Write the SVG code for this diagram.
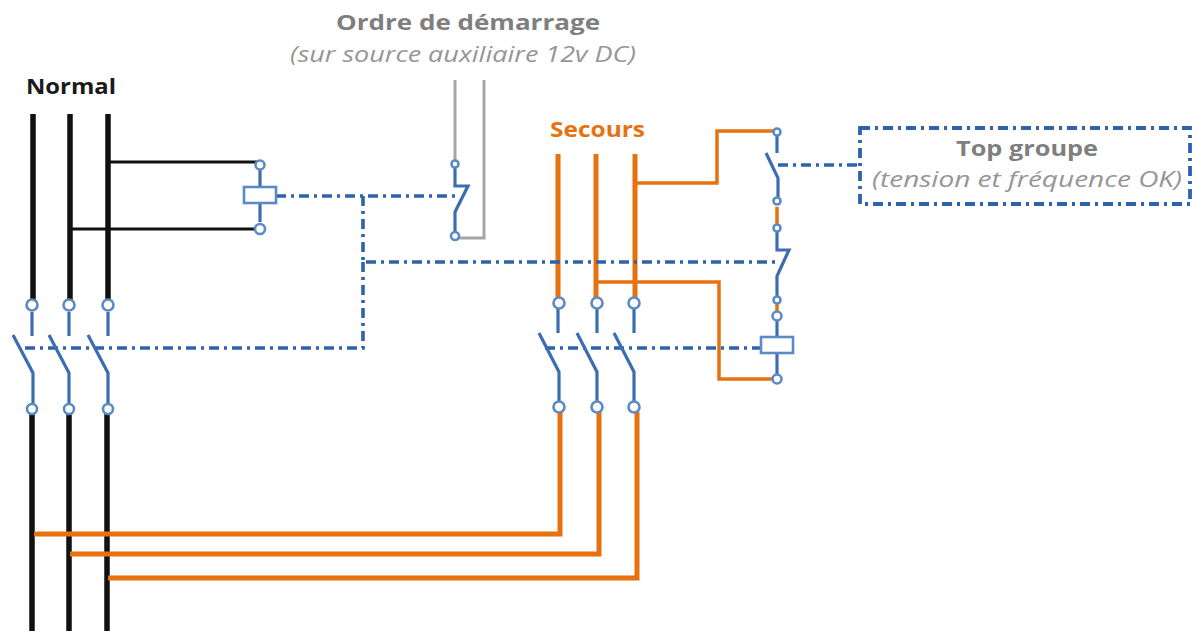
<svg xmlns="http://www.w3.org/2000/svg" width="1192" height="631" viewBox="0 0 1192 631">
<style>
.k{fill:none;stroke:#111;stroke-width:5.5}
.k2{fill:none;stroke:#111;stroke-width:3}
.o{fill:none;stroke:#e8710f;stroke-width:5}
.o2{fill:none;stroke:#e8710f;stroke-width:3.5}
.g{fill:none;stroke:#a6a6a6;stroke-width:3}
.b{fill:none;stroke:#3c6db0;stroke-width:3.2}
.d{fill:none;stroke:#2f62ad;stroke-width:3.6;stroke-dasharray:10 5 3 5}
.c{fill:#fff;stroke:#5b8ac6;stroke-width:2.6}
.r{fill:#fff;stroke:#5b8ac6;stroke-width:2.6}
text{font-family:"Open Sans","Liberation Sans",sans-serif;lengthAdjust:spacingAndGlyphs}
.h{font-weight:700;font-size:22px;fill:#7f7f7f}
.i{font-style:italic;font-size:22px;fill:#969696;font-weight:400}
</style>
<g id="connectors">
<path class="k" d="M33 114V300M70 114V300M108 114V300M32 412V631M69 412V631M107 412V631"/>
<path class="k2" d="M108 162H258M70 229H258"/>
<path class="o" d="M558 154V298M596 154V298M635 154V298M560 412V534H34M599 412V554H70M637 412V578H108"/>
<path class="o2" d="M637 183H717V131H773M597 282H719V379H773M777 207V224M777 304V312"/>
<path class="g" d="M455 80V160M484 80V238H458"/>
<path class="d" d="M276 196H455M363 196V262H780M363 262V348H20M545 348H760M778 165H858"/>
</g>
<g id="switch-normal">
<path class="b" d="M32 312V336M69 312V336M108 312V336M13 335L33 373V404M49 335L69 373V404M88 335L108 373V404"/>
<circle class="c" cx="32" cy="305" r="5.5"/><circle class="c" cx="69" cy="305" r="5.5"/><circle class="c" cx="108" cy="305" r="5.5"/>
<circle class="c" cx="32" cy="409" r="5"/><circle class="c" cx="69" cy="409" r="5"/><circle class="c" cx="108" cy="409" r="5"/>
</g>
<g id="coil-normal">
<path class="b" d="M260 165V222"/>
<rect class="r" x="244" y="187" width="32" height="16"/>
<circle class="c" cx="260" cy="165" r="4.5"/><circle class="c" cx="260" cy="229" r="5"/>
</g>
<g id="contact-start">
<path class="b" d="M455 164V186H468L455 212V236"/>
<circle class="c" cx="455" cy="164" r="3.5"/><circle class="c" cx="455" cy="236" r="4"/>
</g>
<g id="switch-secours">
<path class="b" d="M558 308V333M597 308V333M634 308V333M539 333L559 372V402M577 333L597 372V402M614 333L634 372V402"/>
<circle class="c" cx="559" cy="303" r="5.5"/><circle class="c" cx="597" cy="303" r="5.5"/><circle class="c" cx="634" cy="303" r="5.5"/>
<circle class="c" cx="559" cy="407" r="5.5"/><circle class="c" cx="597" cy="407" r="5.5"/><circle class="c" cx="634" cy="407" r="5.5"/>
</g>
<g id="contact-top">
<path class="b" d="M777 136V153M766 153L778 178V200"/>
<circle class="c" cx="777" cy="132" r="3.5"/><circle class="c" cx="777" cy="201" r="3.5"/>
</g>
<g id="contact-interlock">
<path class="b" d="M777 230V250H789L777 276V297"/>
<circle class="c" cx="777" cy="228" r="3.5"/><circle class="c" cx="777" cy="300" r="3.5"/>
</g>
<g id="coil-secours">
<path class="b" d="M777 316V374"/>
<circle class="c" cx="777" cy="316" r="4.5"/>
<rect class="r" x="761" y="337" width="32" height="16"/>
<circle class="c" cx="777" cy="379" r="4.5"/>
</g>
<g id="top-groupe">
<rect x="860" y="128" width="330" height="76" fill="none" stroke="#2f62ad" stroke-width="3.8" stroke-dasharray="10 5 3 5"/>
<text class="h" x="956" y="156" textLength="142" lengthAdjust="spacingAndGlyphs">Top groupe</text>
<text class="i" x="872" y="187" textLength="310" lengthAdjust="spacingAndGlyphs">(tension et fréquence OK)</text>
</g>
<g id="labels">
<text class="h" x="336" y="30" textLength="264" lengthAdjust="spacingAndGlyphs">Ordre de démarrage</text>
<text class="i" x="290" y="62" textLength="346" lengthAdjust="spacingAndGlyphs">(sur source auxiliaire 12v DC)</text>
<text x="26" y="94" textLength="90" lengthAdjust="spacingAndGlyphs" font-weight="700" font-size="22" fill="#1a1a1a">Normal</text>
<text x="550" y="137" textLength="95" lengthAdjust="spacingAndGlyphs" font-weight="700" font-size="21" fill="#e8710f">Secours</text>
</g>
</svg>
